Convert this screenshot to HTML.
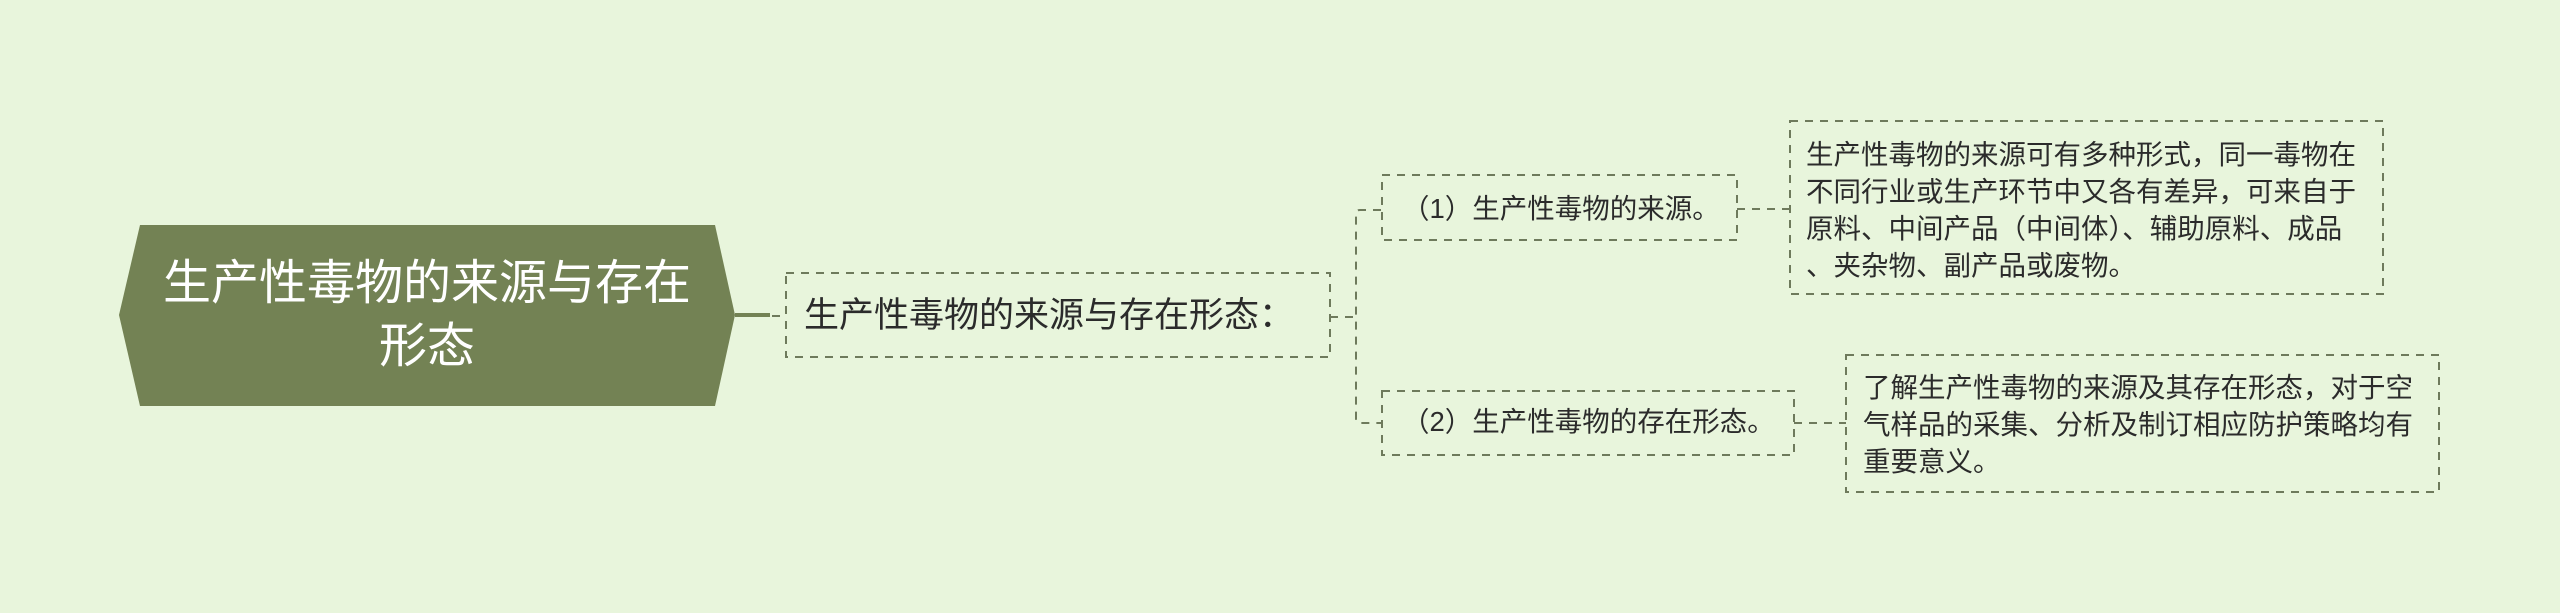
<!DOCTYPE html>
<html><head><meta charset="utf-8"><style>
html,body{margin:0;padding:0}
body{width:2560px;height:613px;background:#e8f5dc;position:relative;overflow:hidden;font-family:"Liberation Sans","Noto Sans CJK SC",sans-serif;color:#2b2b2b}
.t{position:absolute;white-space:nowrap}
</style></head><body>
<svg width="2560" height="613" style="position:absolute;left:0;top:0">
<polygon points="119,315 140,225 715,225 735,315 715,406 140,406" fill="#738254"/>
<line x1="735" y1="315" x2="770" y2="315" stroke="#738254" stroke-width="4"/>
<g fill="none" stroke="#6e7a5c" stroke-width="2" stroke-dasharray="8,7">
<line x1="772" y1="316" x2="786" y2="316"/>
<rect x="786" y="273" width="544" height="84"/>
<line x1="1330" y1="317" x2="1356" y2="317"/>
<path d="M1381,210 H1360 Q1356,210 1356,214 V419 Q1356,423 1360,423 H1381"/>
<rect x="1382" y="175" width="355" height="65"/>
<rect x="1382" y="391" width="412" height="64"/>
<line x1="1737" y1="209" x2="1790" y2="209"/>
<line x1="1794" y1="423" x2="1846" y2="423"/>
<rect x="1790" y="121" width="593" height="173"/>
<rect x="1846" y="355" width="593" height="137"/>
</g>
</svg>
<div class="t" style="left:119px;width:616px;top:252px;text-align:center;color:#fff;font-size:48px;line-height:63px;white-space:normal">生产性毒物的来源与存在<br>形态</div>
<div class="t" style="left:804px;top:294px;font-size:35px;line-height:44px">生产性毒物的来源与存在形态：</div>
<div class="t" style="left:1402px;top:192px;font-size:27.5px;line-height:34px">（1）生产性毒物的来源。</div>
<div class="t" style="left:1402px;top:405px;font-size:27.5px;line-height:34px">（2）生产性毒物的存在形态。</div>
<div class="t" style="left:1806px;top:136px;font-size:27.5px;line-height:37px">生产性毒物的来源可有多种形式，同一毒物在<br>不同行业或生产环节中又各有差异，可来自于<br>原料、中间产品（中间体）、辅助原料、成品<br>、夹杂物、副产品或废物。</div>
<div class="t" style="left:1863px;top:369px;font-size:27.5px;line-height:37px">了解生产性毒物的来源及其存在形态，对于空<br>气样品的采集、分析及制订相应防护策略均有<br>重要意义。</div>
</body></html>
